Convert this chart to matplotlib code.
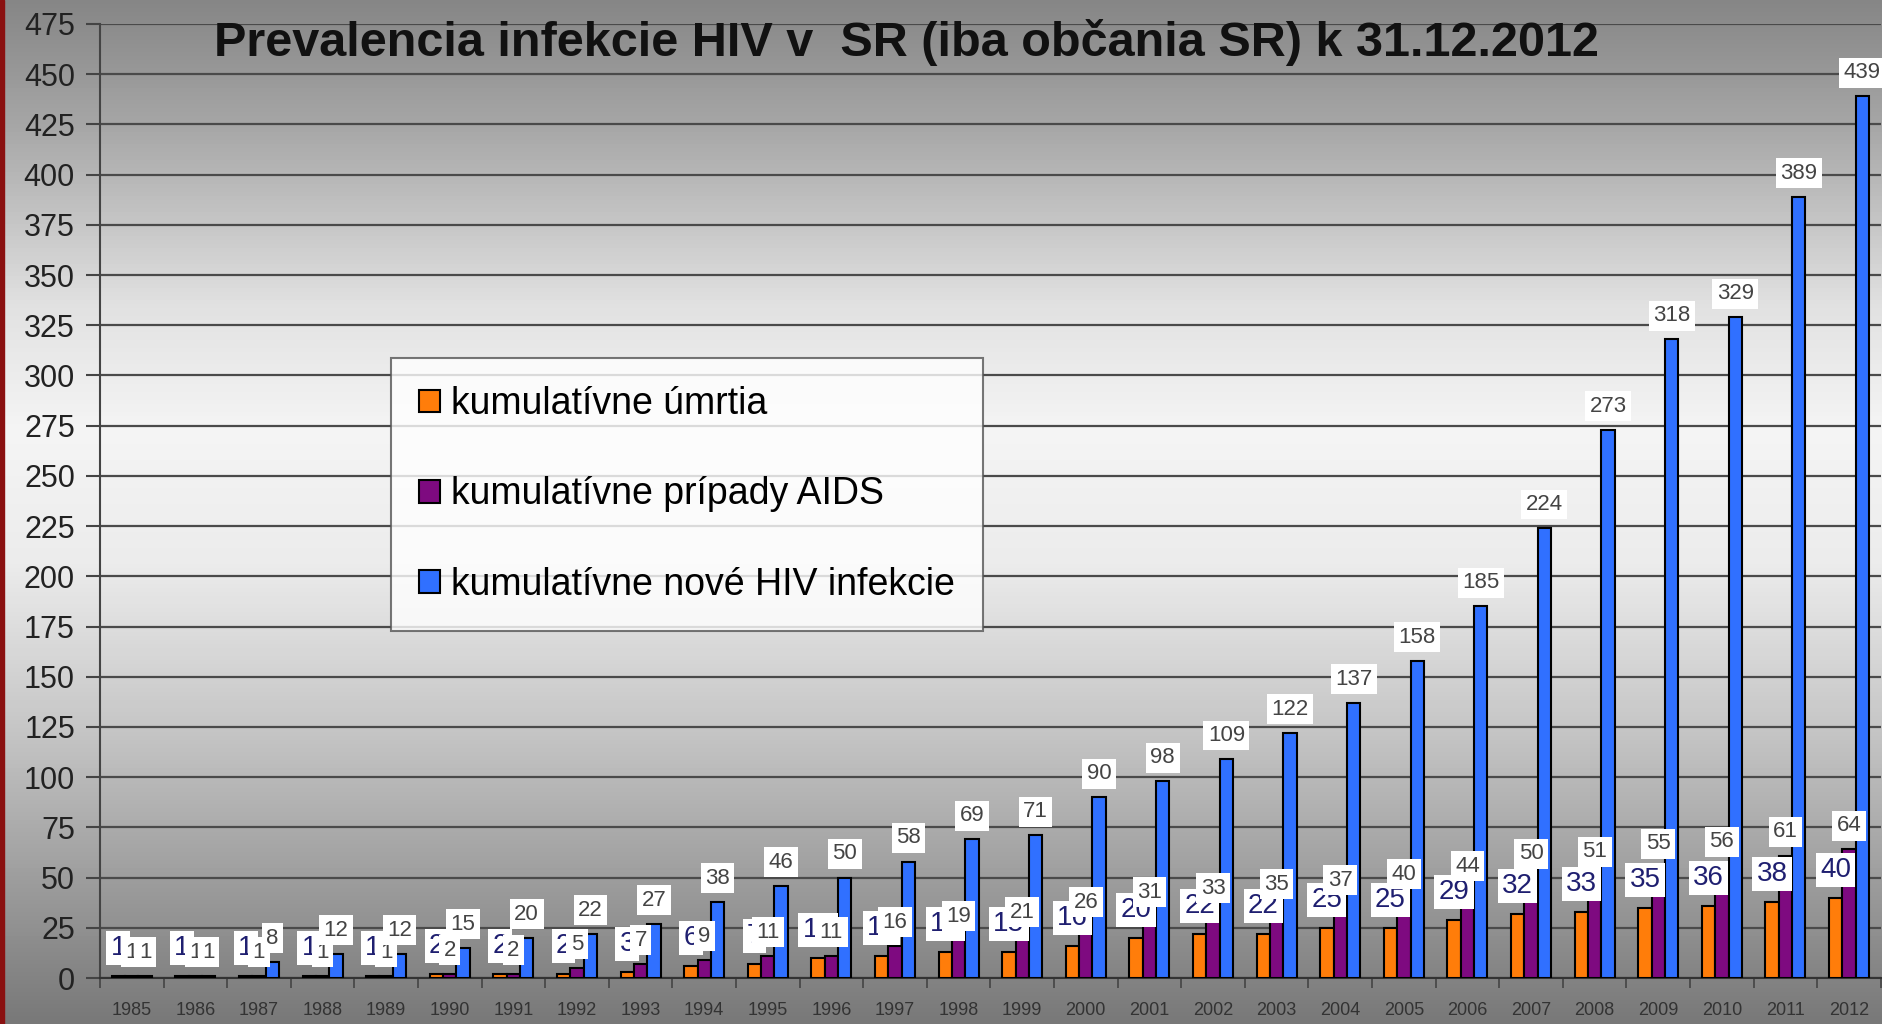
import numpy as np
import matplotlib.pyplot as plt
from matplotlib.colors import LinearSegmentedColormap
from matplotlib.patches import Rectangle

plt.rcParams['font.family'] = ['Liberation Sans', 'DejaVu Sans']

years = list(range(1985, 2013))
umrtia = [1, 1, 1, 1, 1, 2, 2, 2, 3, 6, 7, 10, 11, 13, 13, 16, 20, 22, 22, 25,
          25, 29, 32, 33, 35, 36, 38, 40]
aids = [1, 1, 1, 1, 1, 2, 2, 5, 7, 9, 11, 11, 16, 19, 21, 26, 31, 33, 35, 37,
        40, 44, 50, 51, 55, 56, 61, 64]
hiv = [1, 1, 8, 12, 12, 15, 20, 22, 27, 38, 46, 50, 58, 69, 71, 90, 98, 109,
       122, 137, 158, 185, 224, 273, 318, 329, 389, 439]

series_names = ["kumulatívne úmrtia", "kumulatívne prípady AIDS",
                "kumulatívne nové HIV infekcie"]
colors = ["#ff7d0a", "#7e0a80", "#3070ff"]
title = "Prevalencia infekcie HIV v  SR (iba občania SR) k 31.12.2012"

fig = plt.figure(figsize=(18.82, 10.24), dpi=100)

# gray gradient background like the slide
bg = LinearSegmentedColormap.from_list("bg", [
    (0.0, "#868686"), (0.12, "#a6a6a6"), (0.30, "#e2e2e2"), (0.42, "#f5f5f5"),
    (0.55, "#ececec"), (0.72, "#c4c4c4"), (0.88, "#989898"), (1.0, "#787878")])
bgax = fig.add_axes([0, 0, 1, 1], zorder=-10)
bgax.imshow(np.linspace(0, 1, 256).reshape(-1, 1), aspect="auto", cmap=bg,
            extent=[0, 1, 0, 1])
bgax.axis("off")
fig.patches.append(Rectangle((0, 0), 0.002, 1, transform=fig.transFigure,
                             color="#8a1010", zorder=5))

ax = fig.add_axes([0.0531, 0.0449, 0.9463, 0.9317])
ax.patch.set_alpha(0)

x = np.arange(len(years))
w = 0.21
data = [umrtia, aids, hiv]
for i, (vals, name, c) in enumerate(zip(data, series_names, colors)):
    ax.bar(x + (i - 1) * w, vals, w, color=c, edgecolor="black", linewidth=1.5,
           label=name, zorder=3)

# value labels in white boxes
for i, vals in enumerate(data):
    for xi, v in zip(x, vals):
        if i == 0:
            style = dict(fontsize=20, color="#1f1f70")
            off, pad = 20, 0.15
        else:
            style = dict(fontsize=16, color="#444444")
            off, pad = 17, 0.2
        ax.annotate(str(v), (xi + (i - 1) * w, v), xytext=(0, off),
                    textcoords="offset points", ha="center", va="center",
                    bbox=dict(boxstyle=f"square,pad={pad}", fc="white", ec="none"),
                    zorder=4 + i, **style)

ax.set_xlim(-0.5, len(years) - 0.5)
ax.set_ylim(0, 475)
ax.set_yticks(range(0, 476, 25))
ax.set_xticks(x)
ax.set_xticklabels(years)
ax.set_xticks(np.arange(-0.5, len(years), 1), minor=True)
ax.tick_params(axis="x", which="major", length=0, pad=17, labelsize=13,
               labelcolor="#333333")
ax.tick_params(axis="x", which="minor", length=7, color="#444444", width=1.2)
ax.tick_params(axis="y", length=10, width=1.5, color="#444444", labelsize=22,
               labelcolor="#222222", pad=8)
ax.grid(axis="y", color="#4a4a4a", linewidth=1.6, zorder=1)
for s in ["top", "right"]:
    ax.spines[s].set_visible(False)
ax.spines["left"].set_color("#444444")
ax.spines["left"].set_linewidth(1.5)
ax.spines["bottom"].set_color("#333333")
ax.spines["bottom"].set_linewidth(1.5)

leg = ax.legend(loc="upper left", fontsize=27, frameon=True,
                fancybox=False, handlelength=0.55, handleheight=0.55,
                handletextpad=0.3, labelspacing=1.45, borderpad=0.75,
                borderaxespad=0)
leg.get_frame().set_edgecolor("#555555")
leg.get_frame().set_linewidth(1.5)
leg.set_zorder(10)
leg.set_bbox_to_anchor((391 / 1882, (1024 - 358) / 1024), transform=fig.transFigure)

fig.text(906 / 1882, 1 - 42 / 1024, title, ha="center", va="center",
         fontsize=35, fontweight="bold", color="#111111")

fig.savefig("out.png", dpi=100)
